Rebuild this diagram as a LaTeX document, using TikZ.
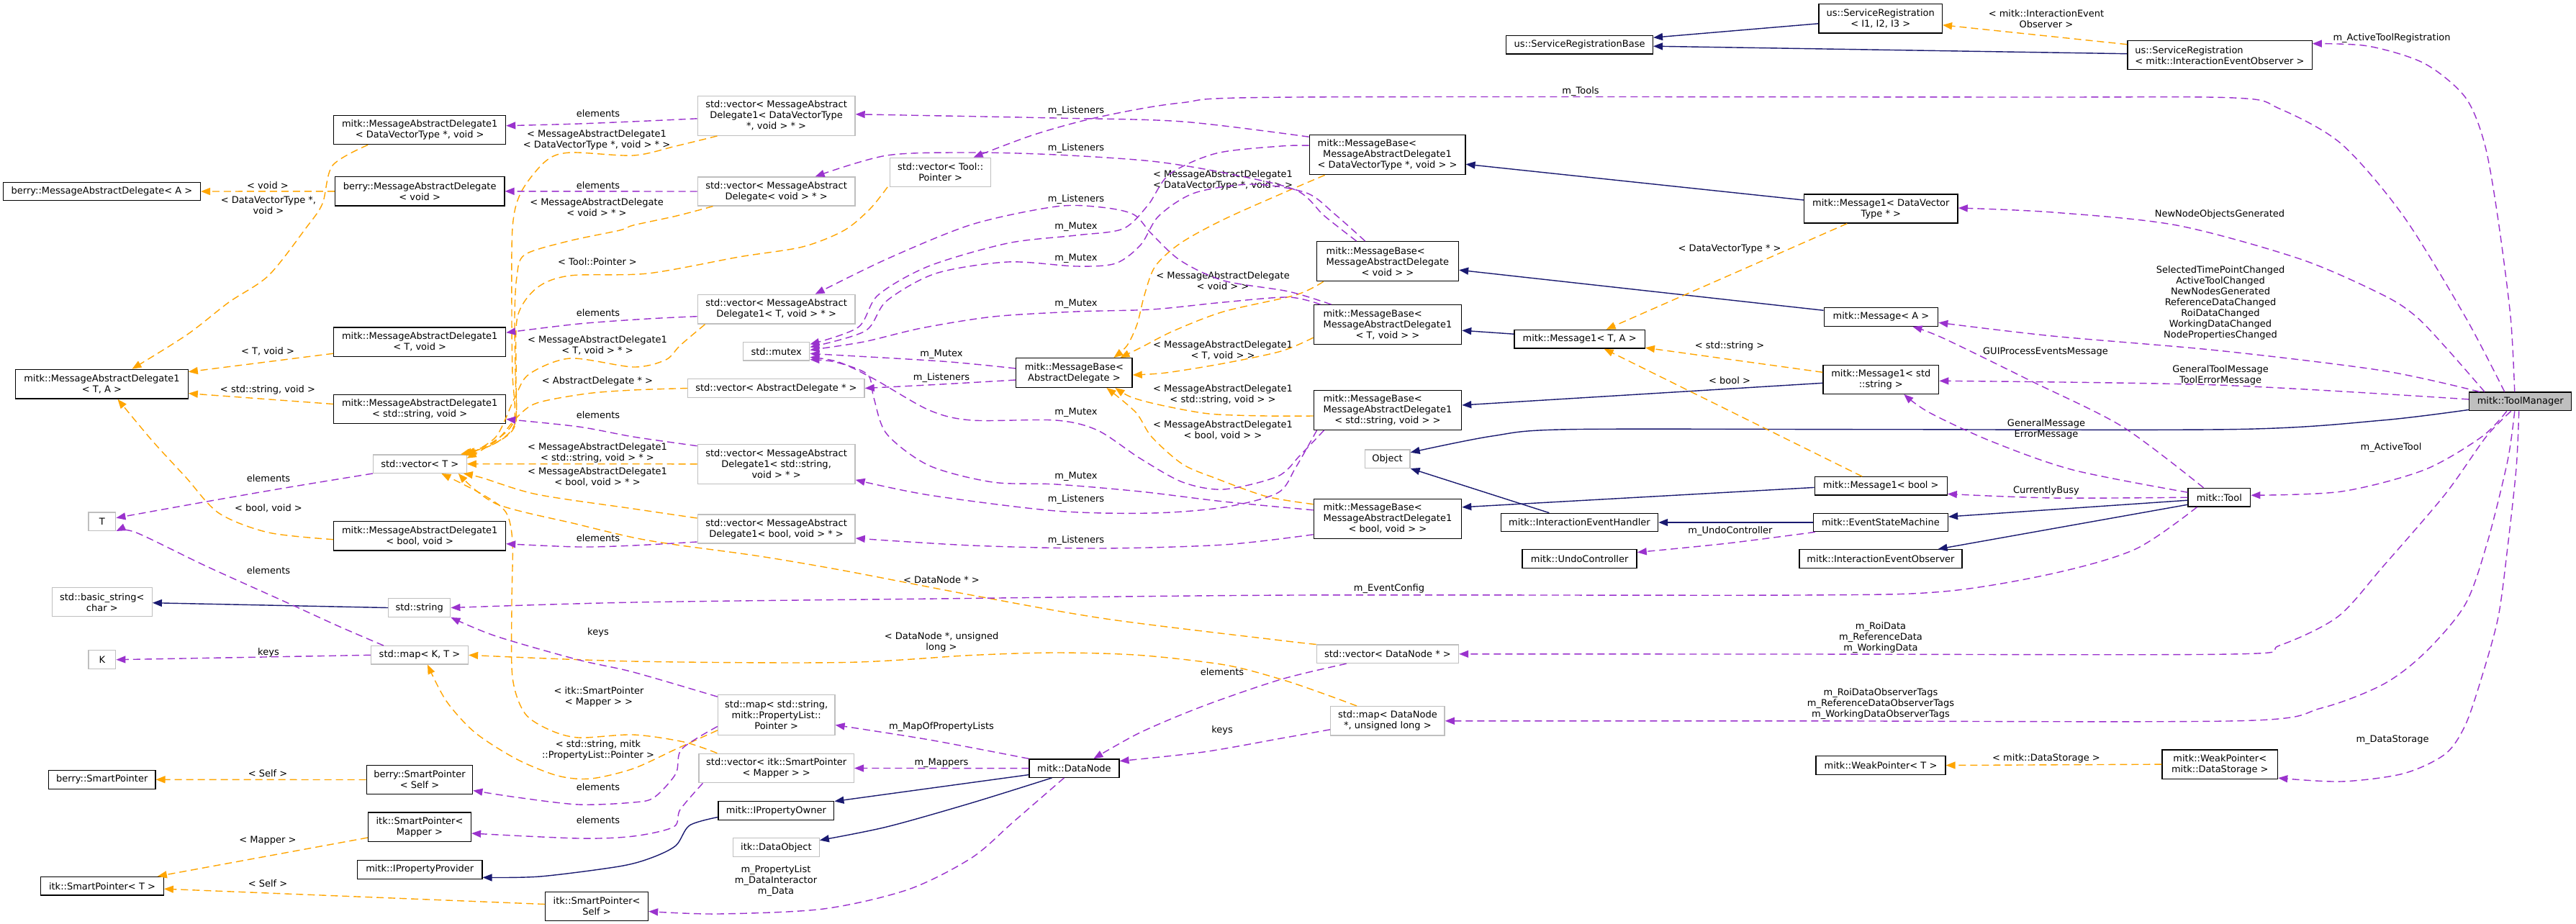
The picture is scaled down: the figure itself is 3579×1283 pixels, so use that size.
\documentclass[tikz,border=0pt]{standalone}
\usepackage{fontspec}
\newfontfamily\dvs{DejaVu Sans}
\usetikzlibrary{arrows.meta,calc}
\newcommand\dx{\dvs\fontsize{13}{15}\selectfont}
\newcommand\lft[2]{\rlap{#1}\phantom{#2}}
\definecolor{usep}{HTML}{9A32CD}
\definecolor{tplo}{HTML}{FFA500}
\definecolor{inhb}{HTML}{191970}
\definecolor{gbd}{HTML}{BFBFBF}
\tikzset{
 box/.style={draw=black,line width=1.3pt,fill=white,inner sep=0pt,font=\dx,align=center},
 gbox/.style={box,draw=gbd},
 lbl/.style={font=\dx,align=center,inner sep=0pt},
 tipx/.style={-{Triangle[length=13pt,width=10pt]}},
 inher/.style={draw=inhb,line width=1.4pt,tipx},
 uses/.style={draw=usep,line width=1.4pt,dash pattern=on 10pt off 6pt,tipx},
 tmpl/.style={draw=tplo,line width=1.4pt,dash pattern=on 10pt off 6pt,tipx},
}
\begin{document}
\begin{tikzpicture}[x=1pt,y=-1pt]
\useasboundingbox (0,0) rectangle (3579,1283);
\fill[white] (0,0) rectangle (3579,1283);
% ---------------- nodes
\node[box,minimum width=238.8,minimum height=40] (mad1dvt) at (583.2,180.7) {mitk::MessageAbstractDelegate1\\< DataVectorType *, void >};
\node[box,minimum width=273.8,minimum height=25.4] (bmadA) at (141.5,266) {berry::MessageAbstractDelegate< A >};
\node[box,minimum width=235.3,minimum height=40.3] (bmadv) at (583.2,265.8) {berry::MessageAbstractDelegate\\< void >};
\node[gbox,minimum width=218.9,minimum height=55] (vecdvt) at (1078.6,160.8) {std::vector< MessageAbstract\\Delegate1< DataVectorType\\ *, void > * >};
\node[gbox,minimum width=139.7,minimum height=40] (vectool) at (1306.6,239.3) {std::vector< Tool::\\Pointer >};
\node[gbox,minimum width=218.9,minimum height=40] (vecvoid) at (1078.6,266) {std::vector< MessageAbstract\\Delegate< void > * >};
\node[gbox,minimum width=218.9,minimum height=40.7] (vect) at (1078.6,429.7) {std::vector< MessageAbstract\\Delegate1< T, void > * >};
\node[box,minimum width=203.6,minimum height=25.7] (srb) at (2194.6,62.2) {us::ServiceRegistrationBase};
\node[box,minimum width=171.4,minimum height=40.3] (sr123) at (2612.7,25.8) {us::ServiceRegistration\\< I1, I2, I3 >};
\node[box,minimum width=216.6,minimum height=55] (mbdvt) at (1927.6,215.2) {\lft{mitk::MessageBase<}{< DataVectorType *, void > >}\\MessageAbstractDelegate1\\< DataVectorType *, void > >};
\node[box,minimum width=197.2,minimum height=55] (mbvoid) at (1927.9,363.2) {\lft{mitk::MessageBase<}{MessageAbstractDelegate}\\MessageAbstractDelegate\\< void > >};
\node[box,minimum width=213.6,minimum height=40] (m1dvt) at (2613.3,290) {mitk::Message1< DataVector\\Type * >};
\node[box,minimum width=158.5,minimum height=26] (msgA) at (2613.4,440.3) {mitk::Message< A >};
\node[box,minimum width=256.3,minimum height=40] (srieo) at (3084,76.7) {\lft{us::ServiceRegistration}{< mitk::InteractionEventObserver >}\\< mitk::InteractionEventObserver >};
\node[box,minimum width=239.4,minimum height=40.7] (mad1TA) at (141.5,533.7) {mitk::MessageAbstractDelegate1\\< T, A >};
\node[box,minimum width=238.8,minimum height=40.3] (mad1Tv) at (583.2,475.2) {mitk::MessageAbstractDelegate1\\< T, void >};
\node[box,minimum width=238.8,minimum height=40.4] (mad1sv) at (583.2,568.5) {mitk::MessageAbstractDelegate1\\< std::string, void >};
\node[gbox,minimum width=129.7,minimum height=25.3] (vecT) at (583.3,644.7) {std::vector< T >};
\node[gbox,minimum width=37.9,minimum height=25.3] (T) at (141.8,724.7) {T};
\node[box,minimum width=238.8,minimum height=40.7] (mad1bv) at (583.2,744.7) {mitk::MessageAbstractDelegate1\\< bool, void >};
\node[gbox,minimum width=139,minimum height=40] (bstr) at (141.8,836.7) {std::basic\_string<\\ char >};
\node[gbox,minimum width=86.1,minimum height=25.6] (str) at (582.7,844.5) {std::string};
\node[gbox,minimum width=92.1,minimum height=25.3] (mutex) at (1078.7,488.4) {std::mutex};
\node[gbox,minimum width=245.3,minimum height=25.6] (vecad) at (1078.4,539.5) {std::vector< AbstractDelegate * >};
\node[box,minimum width=161.3,minimum height=40.6] (mbad) at (1492.4,518) {mitk::MessageBase<\\ AbstractDelegate >};
\node[gbox,minimum width=218.9,minimum height=55] (vecsv) at (1078.6,644.8) {std::vector< MessageAbstract\\Delegate1< std::string,\\ void > * >};
\node[gbox,minimum width=218.9,minimum height=40] (vecbv) at (1078.6,735) {std::vector< MessageAbstract\\Delegate1< bool, void > * >};
\node[box,minimum width=205.4,minimum height=55] (mbTv) at (1927.9,451.2) {\lft{mitk::MessageBase<}{MessageAbstractDelegate1}\\MessageAbstractDelegate1\\< T, void > >};
\node[box,minimum width=181.4,minimum height=25.7] (m1TA) at (2194.6,471.2) {mitk::Message1< T, A >};
\node[box,minimum width=160.8,minimum height=40] (m1s) at (2613.3,527.3) {mitk::Message1< std\\::string >};
\node[box,minimum width=205.4,minimum height=54.6] (mbsv) at (1927.9,570) {\lft{mitk::MessageBase<}{MessageAbstractDelegate1}\\MessageAbstractDelegate1\\< std::string, void > >};
\node[gbox,minimum width=62.8,minimum height=25.3] (obj) at (1927.6,637.7) {Object};
\node[box,minimum width=184,minimum height=25.3] (m1b) at (2613.2,675.4) {mitk::Message1< bool >};
\node[box,minimum width=205.4,minimum height=55] (mbbv) at (1927.9,720.8) {\lft{mitk::MessageBase<}{MessageAbstractDelegate1}\\MessageAbstractDelegate1\\< bool, void > >};
\node[box,minimum width=218.3,minimum height=25.4] (ieh) at (2194.4,726) {mitk::InteractionEventHandler};
\node[box,minimum width=187,minimum height=25.4] (esm) at (2612.9,726) {mitk::EventStateMachine};
\node[box,minimum width=159,minimum height=25.6] (undo) at (2194.6,776.5) {mitk::UndoController};
\node[box,minimum width=225.8,minimum height=25.6] (ieo) at (2613,776.5) {mitk::InteractionEventObserver};
\node[box,fill=gbd,minimum width=142.2,minimum height=25.7] (tm) at (3501.7,557.9) {mitk::ToolManager};
\node[box,minimum width=86.6,minimum height=25.7] (tool) at (3083.4,691.2) {mitk::Tool};
\node[gbox,minimum width=37.9,minimum height=25.8] (K) at (141.8,916.7) {K};
\node[gbox,minimum width=134.9,minimum height=25.2] (mapKT) at (583,910.3) {std::map< K, T >};
\node[box,minimum width=148.1,minimum height=26.2] (bsp) at (141.8,1083.3) {berry::SmartPointer};
\node[box,minimum width=147.5,minimum height=40.6] (bspS) at (583,1083.5) {berry::SmartPointer\\< Self >};
\node[box,minimum width=142.9,minimum height=40.3] (ispM) at (583,1149) {itk::SmartPointer<\\ Mapper >};
\node[box,minimum width=173.3,minimum height=25.8] (ipp) at (583.3,1208.3) {mitk::IPropertyProvider};
\node[box,minimum width=170.5,minimum height=25.7] (ispT) at (142,1231.2) {itk::SmartPointer< T >};
\node[box,minimum width=142.8,minimum height=40.3] (ispS) at (829.1,1259.5) {itk::SmartPointer<\\ Self >};
\node[gbox,minimum width=162.5,minimum height=55.4] (mapspl) at (1078.7,993.5) {std::map< std::string,\\ mitk::PropertyList::\\Pointer >};
\node[gbox,minimum width=215.3,minimum height=40.5] (vecspm) at (1078.7,1067.5) {std::vector< itk::SmartPointer\\< Mapper > >};
\node[box,minimum width=125,minimum height=25.4] (dn) at (1492.4,1067.6) {mitk::DataNode};
\node[box,minimum width=160.8,minimum height=25.7] (ipo) at (1078.4,1126.5) {mitk::IPropertyOwner};
\node[gbox,minimum width=119.7,minimum height=25.9] (ido) at (1078.4,1177.6) {itk::DataObject};
\node[gbox,minimum width=197.2,minimum height=25.5] (vecdn) at (1927.9,908.8) {std::vector< DataNode * >};
\node[gbox,minimum width=158.4,minimum height=40.4] (mapdn) at (1927.9,1001.8) {std::map< DataNode\\ *, unsigned long >};
\node[box,minimum width=179.9,minimum height=26.2] (wpT) at (2613,1063.5) {mitk::WeakPointer< T >};
\node[box,minimum width=160.5,minimum height=40.4] (wpds) at (3084.3,1062.1) {mitk::WeakPointer<\\ mitk::DataStorage >};
% ---------------- edge labels
\node[lbl] (la1) at (2843,26) {< mitk::InteractionEvent\\Observer >};
\node[lbl] (la2) at (3323,53) {m\_ActiveToolRegistration};
\node[lbl] (la3) at (2196,127) {m\_Tools};
\node[lbl] (la4) at (3084,298) {NewNodeObjectsGenerated};
\node[lbl] (la5) at (3085,421) {SelectedTimePointChanged\\ActiveToolChanged\\NewNodesGenerated\\ReferenceDataChanged\\RoiDataChanged\\WorkingDataChanged\\NodePropertiesChanged};
\node[lbl] (la6) at (3085,521) {GeneralToolMessage\\ToolErrorMessage};
\node[lbl] (la7) at (3322,622) {m\_ActiveTool};
\node[lbl] (la8) at (2842,489) {GUIProcessEventsMessage};
\node[lbl] (la9) at (2843,596) {GeneralMessage\\ErrorMessage};
\node[lbl] (la10) at (2843,682) {CurrentlyBusy};
\node[lbl] (la11) at (2404,738) {m\_UndoController};
\node[lbl] (la12) at (1930,818) {m\_EventConfig};
\node[lbl] (la13) at (2613,886) {m\_RoiData\\m\_ReferenceData\\m\_WorkingData};
\node[lbl] (la14) at (2613,978) {m\_RoiDataObserverTags\\m\_ReferenceDataObserverTags\\m\_WorkingDataObserverTags};
\node[lbl] (la15) at (3324,1028) {m\_DataStorage};
\node[lbl] (la16) at (2843,1054) {< mitk::DataStorage >};
\node[lbl] (la17) at (2403,346) {< DataVectorType * >};
\node[lbl] (la18) at (2403,481) {< std::string >};
\node[lbl] (la19) at (2403,529) {< bool >};
\node[lbl] (la20) at (1495,154) {m\_Listeners};
\node[lbl] (la21) at (1495,206) {m\_Listeners};
\node[lbl] (la22) at (1495,277) {m\_Listeners};
\node[lbl] (la23) at (1495,315) {m\_Mutex};
\node[lbl] (la24) at (1495,359) {m\_Mutex};
\node[lbl] (la25) at (1495,422) {m\_Mutex};
\node[lbl] (la26) at (1308,492) {m\_Mutex};
\node[lbl] (la27) at (1308,525) {m\_Listeners};
\node[lbl] (la28) at (1495,573) {m\_Mutex};
\node[lbl] (la29) at (1495,662) {m\_Mutex};
\node[lbl] (la30) at (1495,694) {m\_Listeners};
\node[lbl] (la31) at (1495,751) {m\_Listeners};
\node[lbl] (la32) at (1699,250) {< MessageAbstractDelegate1\\< DataVectorType *, void > >};
\node[lbl] (la33) at (1699,390) {< MessageAbstractDelegate\\< void > >};
\node[lbl] (la34) at (1699,487) {< MessageAbstractDelegate1\\< T, void > >};
\node[lbl] (la35) at (1699,548) {< MessageAbstractDelegate1\\< std::string, void > >};
\node[lbl] (la36) at (1699,598) {< MessageAbstractDelegate1\\< bool, void > >};
\node[lbl] (la37) at (831,158) {elements};
\node[lbl] (la38) at (829,194) {< MessageAbstractDelegate1\\< DataVectorType *, void > * >};
\node[lbl] (la39) at (372,258) {< void >};
\node[lbl] (la40) at (373,285) {< DataVectorType *,\\void >};
\node[lbl] (la41) at (831,258) {elements};
\node[lbl] (la42) at (829,288) {< MessageAbstractDelegate\\< void > * >};
\node[lbl] (la43) at (830,364) {< Tool::Pointer >};
\node[lbl] (la44) at (831,435) {elements};
\node[lbl] (la45) at (830,480) {< MessageAbstractDelegate1\\< T, void > * >};
\node[lbl] (la46) at (372,488) {< T, void >};
\node[lbl] (la47) at (830,530) {< AbstractDelegate * >};
\node[lbl] (la48) at (372,542) {< std::string, void >};
\node[lbl] (la49) at (831,577) {elements};
\node[lbl] (la50) at (830,629) {< MessageAbstractDelegate1\\< std::string, void > * >};
\node[lbl] (la51) at (830,663) {< MessageAbstractDelegate1\\< bool, void > * >};
\node[lbl] (la52) at (373,665) {elements};
\node[lbl] (la53) at (373,706) {< bool, void >};
\node[lbl] (la54) at (831,748) {elements};
\node[lbl] (la55) at (373,793) {elements};
\node[lbl] (la56) at (1308,806) {< DataNode * >};
\node[lbl] (la57) at (831,879) {keys};
\node[lbl] (la58) at (1308,892) {< DataNode *, unsigned\\long >};
\node[lbl] (la59) at (373,907) {keys};
\node[lbl] (la60) at (1698,934) {elements};
\node[lbl] (la61) at (832,968) {< itk::SmartPointer\\< Mapper > >};
\node[lbl] (la62) at (1308,1010) {m\_MapOfPropertyLists};
\node[lbl] (la63) at (1698,1015) {keys};
\node[lbl] (la64) at (831,1042) {< std::string, mitk\\::PropertyList::Pointer >};
\node[lbl] (la65) at (1308,1060) {m\_Mappers};
\node[lbl] (la66) at (372,1075) {< Self >};
\node[lbl] (la67) at (831,1094) {elements};
\node[lbl] (la68) at (831,1140) {elements};
\node[lbl] (la69) at (372,1168) {< Mapper >};
\node[lbl] (la70) at (1078,1224) {m\_PropertyList\\m\_DataInteractor\\m\_Data};
\node[lbl] (la71) at (372,1228) {< Self >};
% ---------------- inheritance
\draw[inher] ($(sr123.west)+(0,7)$) -- ($(srb.east)+(0,-10)$);
\draw[inher] ($(srieo.west)+(0,-2)$) -- ($(srb.east)+(0,2)$);
\draw[inher] ($(m1dvt.west)+(0,-12)$) -- ($(mbdvt.east)+(0,13)$);
\draw[inher] ($(msgA.west)+(0,-9)$) -- ($(mbvoid.east)+(0,12)$);
\draw[inher] ($(m1TA.west)+(0,-7)$) -- ($(mbTv.east)+(0,8)$);
\draw[inher] ($(m1s.west)+(0,5)$) -- ($(mbsv.east)+(0,-7)$);
\draw[inher] ($(m1b.west)+(0,2)$) -- ($(mbbv.east)+(0,-16)$);
\draw[inher] plot[smooth] coordinates {($(tm.south west)+(0,-2)$) (3310,584) (3110,596.5) (2600,596.7) (2180,596.7) (2073,606) ($(obj.east)+(0,-9)$)};
\draw[inher] ($(ieh.north)+(-42,0)$) -- (obj.south east);
\draw[inher] (esm.west) -- (ieh.east);
\draw[inher] ($(tool.west)+(0,4)$) -- ($(esm.east)+(0,-8)$);
\draw[inher] ($(tool.west)+(0,10)$) -- ($(ieo.north east)+(-34,0)$);
\draw[inher] (str.west) -- ($(bstr.east)+(0,1)$);
\draw[inher] ($(dn.west)+(0,9)$) -- ($(ipo.east)+(0,-13)$);
\draw[inher] plot[smooth] coordinates {($(dn.south)+(-31,0)$) (1349,1116) (1232,1149) ($(ido.east)+(0,-10)$)};
\draw[inher] plot[smooth] coordinates {($(ipo.west)+(0,9)$) (958,1147) (939,1175) (905,1192) (860,1204) (750,1218) ($(ipp.east)+(0,11)$)};
% ---------------- templates
\draw[tmpl] plot[smooth] coordinates {($(mad1dvt.south)+(-72,0)$) (462,230) (448,283) (425,317) (373,383) (318,420) (260,465) ($(mad1TA.north)+(42,0)$)};
\draw[tmpl] (bmadv.west) -- (bmadA.east);
\draw[tmpl] ($(mad1Tv.west)+(0,16)$) -- ($(mad1TA.east)+(0,-17)$);
\draw[tmpl] ($(mad1sv.west)+(0,-7)$) -- ($(mad1TA.east)+(0,13)$);
\draw[tmpl] plot[smooth] coordinates {($(mad1bv.west)+(0,5)$) (373,740) (304,713) (258,663) (212,613) ($(mad1TA.south)+(22,0)$)};
\draw[tmpl] plot[smooth] coordinates {($(vecdvt.south west)+(28,0)$) (939,203) (880,216) (792,212) (758,224) (724,267) (712,317) (711,440) (712,520) (714,585) (682,616) ($(vecT.north east)+(-6,0)$)};
\draw[tmpl] plot[smooth] coordinates {($(vecvoid.south west)+(22,0)$) (940,300) (880,313) (861,320) (790,335) (729,354) (718,385) (715,440) (716,520) (716,590) (688,616) ($(vecT.north east)+(-3,0)$)};
\draw[tmpl] plot[smooth] coordinates {($(vectool.south west)+(-3,0)$) (1209,290) (1173,320) (1115,343) (1027,357) (900,380) (792,383) (746,400) (719,440) (717,520) (715,590) (684,618) ($(vecT.north east)+(-9,0)$)};
\draw[tmpl] plot[smooth] coordinates {($(vect.south west)+(11,0)$) (945,480) (925,500) (880,510) (792,498) (735,520) (715,553) (689,607) ($(vecT.north east)+(0,1)$)};
\draw[tmpl] plot[smooth] coordinates {(vecad.west) (880,542) (815,547) (746,560) (718,580) (690,612) ($(vecT.east)+(0,-8)$)};
\draw[tmpl] (vecsv.west) -- (vecT.east);
\draw[tmpl] plot[smooth] coordinates {($(vecbv.west)+(0,-15)$) (880,707) (746,687) (670,664) ($(vecT.south east)+(-5,0)$)};
\draw[tmpl] plot[smooth] coordinates {(vecdn.north west) (1780,890) (1537,860) (1350,827) (1173,793) (1056,773) (939,757) (880,747) (800,728) (689,700) ($(vecT.south east)+(-12,0)$)};
\draw[tmpl] plot[smooth] coordinates {($(vecspm.north west)+(26,0)$) (950,1031) (880,1021) (804,1025) (763,1014) (729,991) (712,941) (711,840) (712,753) (703,712) (672,688) ($(vecT.south)+(30,0)$)};
\draw[tmpl] plot[smooth] coordinates {($(mapspl.south west)+(0,-7)$) (939,1041) (880,1068) (821,1082) (775,1078) (718,1055) (660,1018) (620,974) ($(mapKT.south)+(11,0)$)};
\draw[tmpl] plot[smooth] coordinates {($(mapdn.north west)+(37,0)$) (1839,964) (1780,944) (1702,924) (1584,910.5) (1467,907) (1350,910.5) (1173,920.5) (880,919) (mapKT.east)};
\draw[tmpl] (bspS.west) -- (bsp.east);
\draw[tmpl] ($(ispM.west)+(0,15)$) -- ($(ispT.north east)+(-9,0)$);
\draw[tmpl] ($(ispS.west)+(0,-3)$) -- ($(ispT.east)+(0,4)$);
\draw[tmpl] ($(srieo.west)+(0,-15)$) -- ($(sr123.east)+(0,9)$);
\draw[tmpl] ($(m1dvt.south)+(-47,0)$) -- ($(m1TA.north)+(37,0)$);
\draw[tmpl] ($(m1s.west)+(0,-10)$) -- ($(m1TA.east)+(0,12)$);
\draw[tmpl] ($(m1b.north)+(-26,0)$) -- ($(m1TA.south)+(34,0)$);
\draw[tmpl] (wpds.west) -- (wpT.east);
\draw[tmpl] plot[smooth] coordinates {($(mbdvt.south west)+(22,0)$) (1790,265) (1700,305) (1640,338) (1605,370) (1590,410) (1580,450) (1566,480) ($(mbad.north)+(55,0)$)};
\draw[tmpl] plot[smooth] coordinates {($(mbvoid.south west)+(10,0)$) (1800,410) (1700,433) (1630,460) (1585,483) ($(mbad.north)+(64,0)$)};
\draw[tmpl] plot[smooth] coordinates {($(mbTv.west)+(0,18)$) (1780,488) (1700,505) (1620,518) ($(mbad.east)+(0,3)$)};
\draw[tmpl] plot[smooth] coordinates {($(mbsv.west)+(0,8)$) (1760,578) (1680,575) (1613,563) (1572,552) ($(mbad.south)+(57,0)$)};
\draw[tmpl] plot[smooth] coordinates {($(mbbv.north west)+(0,8)$) (1760,690) (1690,665) (1643,645) (1600,607) (1578,573) ($(mbad.south)+(45,0)$)};
% ---------------- usage: ToolManager / Tool
\draw[uses] plot[smooth] coordinates {($(tm.north)+(-8,0)$) (3488,440) (3470,300) (3452,200) (3425,135) (3368,88) (3290,64) ($(srieo.east)+(0,-16)$)};
\draw[uses] plot[smooth] coordinates {($(tm.north)+(-22,0)$) (3425,440) (3339,300) (3253,200) (3167,151) (3104,136) (2800,135) (1800,135) (1640,143) (1525,163) (1437,187) ($(vectool.north)+(46,0)$)};
\draw[uses] plot[smooth] coordinates {($(tm.north west)+(22,0)$) (3400,485) (3357,440) (3311,410) (3196,360) (3024,313) (2852,295) ($(m1dvt.east)+(0,-1)$)};
\draw[uses] plot[smooth] coordinates {($(tm.north west)+(15,0)$) (3310,515) (3081,487) (2852,467) ($(msgA.east)+(0,8)$)};
\draw[uses] plot[smooth] coordinates {($(tm.west)+(0,-3)$) (3080,535) ($(m1s.east)+(0,2)$)};
\draw[uses] plot[smooth] coordinates {($(tm.south)+(-19,0)$) (3448,607) (3368,653) (3253,683) ($(tool.east)+(0,-3)$)};
\draw[uses] plot[smooth] coordinates {($(tool.south)+(-31,0)$) (2967,763) (2852,797) (2700,822) (2500,827) (1800,827) (1300,832) (880,837) (str.east)};
\draw[uses] plot[smooth] coordinates {($(tm.south)+(-13,0)$) (3454,607) (3397,687) (3311,787) (3248,857) (3167,897) (3100,909) (2500,909) (vecdn.east)};
\draw[uses] plot[smooth] coordinates {($(tm.south)+(-8,0)$) (3484,640) (3456,753) (3425,840) (3369,907) (3311,951) (3225,984) (3110,1001.7) (2500,1001.8) (mapdn.east)};
\draw[uses] plot[smooth] coordinates {($(tm.south)+(-2,0)$) (3496,650) (3484,760) (3471,857) (3448,941) (3425,1008) (3397,1048) (3339,1075) (3253,1086) ($(wpds.east)+(0,19)$)};
\draw[uses] plot[smooth] coordinates {($(tool.north)+(-22,0)$) (2949,593) (2823,530) (2700,470) ($(msgA.south)+(44,0)$)};
\draw[uses] plot[smooth] coordinates {($(tool.west)+(0,-7)$) (2880,653) (2766,613) (2680,573) ($(m1s.south)+(32,0)$)};
\draw[uses] plot[smooth] coordinates {(tool.west) (2852,692) ($(m1b.east)+(0,11)$)};
\draw[uses] plot[smooth] coordinates {($(esm.south west)+(3,0)$) (2400,755) ($(undo.east)+(0,-9)$)};
% ---------------- usage: elements / keys
\draw[uses] plot[smooth] coordinates {($(vecdvt.west)+(0,4)$) (900,168) (804,172) ($(mad1dvt.east)+(0,-6)$)};
\draw[uses] (vecvoid.west) -- (bmadv.east);
\draw[uses] plot[smooth] coordinates {($(vect.west)+(0,10)$) (900,443) (804,450) ($(mad1Tv.east)+(0,-13)$)};
\draw[uses] plot[smooth] coordinates {($(vecsv.north west)+(0,3)$) (880,607) (804,593) ($(mad1sv.east)+(0,14)$)};
\draw[uses] plot[smooth] coordinates {($(vecbv.west)+(0,18)$) (880,758) (804,760) ($(mad1bv.east)+(0,11)$)};
\draw[uses] plot[smooth] coordinates {(vecT.south west) (402,677) (287,697) ($(T.east)+(0,-5)$)};
\draw[uses] plot[smooth] coordinates {($(mapKT.north west)+(18,0)$) (470,870) (400,838) (287,787) (189,740) (T.south east)};
\draw[uses] (mapKT.west) -- (K.east);
\draw[uses] plot[smooth] coordinates {($(mapspl.north west)+(0,3)$) (880,934) (804,917) (689,884) (str.south east)};
\draw[uses] plot[smooth] coordinates {($(mapspl.west)+(0,16)$) (947,1041) (939,1075) (909,1108) (880,1115) (804,1118) (718,1108) ($(bspS.east)+(0,15)$)};
\draw[uses] plot[smooth] coordinates {($(vecspm.south west)+(6,0)$) (945,1125) (936,1149) (880,1162) (804,1165) ($(ispM.east)+(0,9)$)};
% ---------------- usage: DataNode
\draw[uses] plot[smooth] coordinates {(dn.north west) (1291,1028) ($(mapspl.east)+(0,14)$)};
\draw[uses] (dn.west) -- (vecspm.east);
\draw[uses] plot[smooth] coordinates {($(dn.south)+(-14,0)$) (1408,1142) (1350,1192) (1262,1236) (1144,1263) (997,1270) ($(ispS.east)+(0,7)$)};
\draw[uses] plot[smooth] coordinates {($(vecdn.south west)+(42,0)$) (1780,944) (1672,981) (1584,1018) ($(dn.north)+(27,0)$)};
\draw[uses] plot[smooth] coordinates {($(mapdn.west)+(0,12)$) (1780,1026) (1672,1045) ($(dn.east)+(0,-10)$)};
% ---------------- usage: MessageBase members
\draw[uses] plot[smooth] coordinates {($(mbdvt.west)+(0,-25)$) (1643,169) (1467,164) ($(vecdvt.east)+(0,-2)$)};
\draw[uses] plot[smooth] coordinates {($(mbvoid.north west)+(56,0)$) (1840,300) (1800,264) (1700,240) (1600,224) (1467,215) (1350,212) (1232,216) ($(vecvoid.north)+(54,0)$)};
\draw[uses] plot[smooth] coordinates {($(mbdvt.west)+(0,-13)$) (1780,203) (1690,213) (1625,242) (1595,285) (1560,318) (1495,327) (1400,338) (1290,370) (1220,410) (1192,455) ($(mutex.east)+(0,-10)$)};
\draw[uses] plot[smooth] coordinates {($(mbvoid.north west)+(68,0)$) (1855,298) (1815,268) (1740,256) (1660,268) (1610,300) (1585,340) (1550,366) (1495,370) (1400,364) (1300,380) (1232,418) (1202,460) ($(mutex.east)+(0,-6)$)};
\draw[uses] plot[smooth] coordinates {($(mbTv.north west)+(25,0)$) (1790,405) (1700,390) (1640,362) (1600,325) (1575,298) (1530,288) (1467,287) (1350,312) (1232,360) ($(vect.north)+(54,0)$)};
\draw[uses] plot[smooth] coordinates {($(mbTv.north west)+(10,0)$) (1790,413) (1700,420) (1600,430) (1495,433) (1380,440) (1280,456) (1200,475) ($(mutex.east)+(0,-2)$)};
\draw[uses] plot[smooth] coordinates {($(mbad.west)+(0,-6)$) (1308,502) ($(mutex.east)+(0,3)$)};
\draw[uses] plot[smooth] coordinates {($(mbad.west)+(0,10)$) (1308,534) (vecad.east)};
\draw[uses] plot[smooth] coordinates {($(mbsv.south west)+(15,0)$) (1806,633) (1775,662) (1700,680) (1643,670) (1584,637) (1525,598) (1467,584) (1350,584) (1291,570) (1215,527) (1165,503) ($(mutex.east)+(0,8)$)};
\draw[uses] plot[smooth] coordinates {($(mbbv.west)+(0,-12)$) (1700,697) (1584,683) (1467,673) (1379,670) (1291,647) (1232,603) (1214,553) (1205,520) (1160,503) ($(mutex.south east)+(0,-2)$)};
\draw[uses] plot[smooth] coordinates {($(mbsv.south west)+(5,0)$) (1800,650) (1775,685) (1700,705) (1600,713) (1467,710) (1291,688) ($(vecsv.east)+(0,22)$)};
\draw[uses] plot[smooth] coordinates {($(mbbv.west)+(0,22)$) (1700,757) (1525,762) (1350,758) ($(vecbv.east)+(0,13)$)};
\end{tikzpicture}
\end{document}
